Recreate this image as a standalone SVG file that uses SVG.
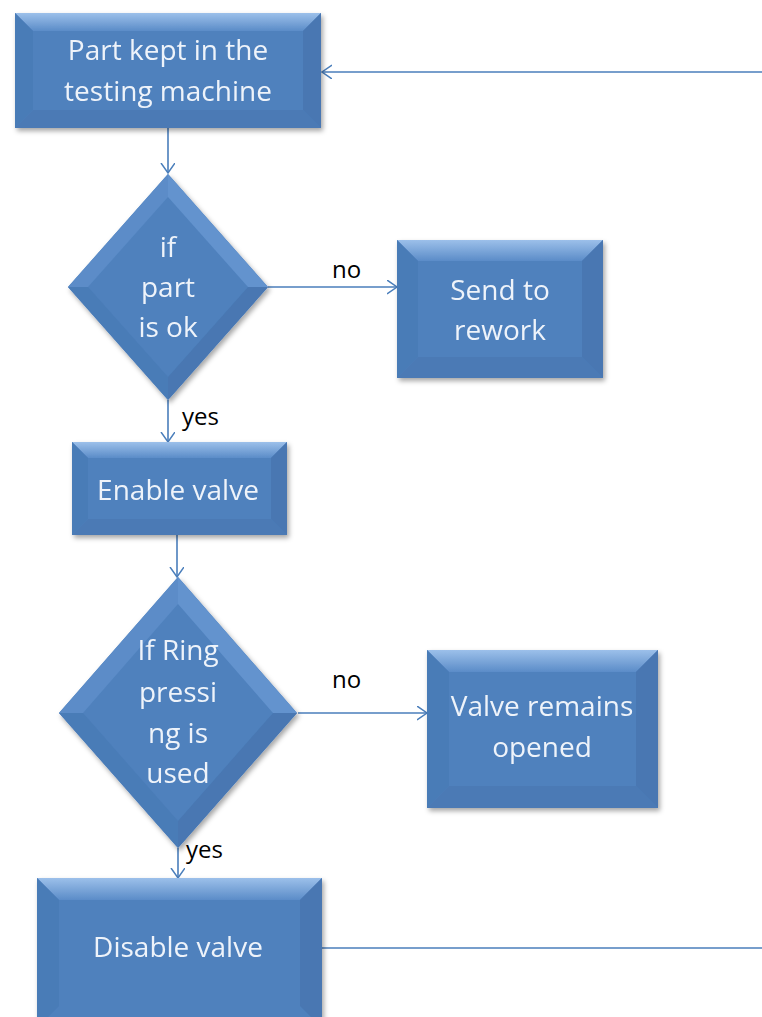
<svg xmlns="http://www.w3.org/2000/svg" width="762" height="1017" viewBox="0 0 762 1017">
<defs>
<style>
.base{fill:#4F81BD}
.top{fill:url(#gTop)}
.left{fill:#4A7BB7}
.right{fill:#4877B2}
.bot{fill:#4B7AB5}
.t{font-family:"Open Sans","Liberation Sans",Arial,sans-serif;font-size:28px;fill:#EEF3FA;text-anchor:middle}
.lbl{font-family:"Open Sans","Liberation Sans",Arial,sans-serif;font-size:24px;fill:#000}
.con{stroke:#4A7EBB;stroke-width:1.6;fill:none}
.arr{marker-end:url(#ah)}
</style>
<linearGradient id="gTop" x1="0" y1="0" x2="0" y2="1">
<stop offset="0" stop-color="#9CC0EA"/>
<stop offset="1" stop-color="#5B8CC8"/>
</linearGradient>
<filter id="sh" x="-10%" y="-10%" width="130%" height="130%">
<feDropShadow dx="2" dy="3" stdDeviation="2.5" flood-color="#000" flood-opacity="0.35"/>
</filter>
<marker id="ah" markerUnits="userSpaceOnUse" markerWidth="12" markerHeight="16" refX="10" refY="7" orient="auto">
<path d="M0,0 L10,7 L0,14" fill="none" stroke="#4A7EBB" stroke-width="1.5"/>
</marker>
</defs>
<rect width="762" height="1017" fill="#fff"/>

<g id="connectors">
<line class="con arr" x1="168" y1="128" x2="168" y2="173"/>
<line class="con arr" x1="268" y1="287" x2="397" y2="287"/>
<line class="con arr" x1="168" y1="400" x2="168" y2="442"/>
<line class="con arr" x1="177" y1="535" x2="177" y2="577"/>
<line class="con arr" x1="298" y1="713" x2="427" y2="713"/>
<line class="con arr" x1="178" y1="848" x2="178" y2="878"/>
<line class="con" x1="322" y1="948" x2="762" y2="948"/>
<line class="con arr" x1="762" y1="72" x2="322" y2="72"/>
</g>

<g id="n1" filter="url(#sh)">
<rect class="base" x="15" y="13" width="306" height="115"/>
<polygon class="top" points="15,13 321,13 303,31 33,31"/>
<polygon class="left" points="15,13 33,31 33,110 15,128"/>
<polygon class="right" points="321,13 303,31 303,110 321,128"/>
<polygon class="bot" points="15,128 33,110 303,110 321,128"/>
<rect class="base" x="33" y="31" width="270" height="79"/>
<text class="t" x="168" y="60">Part kept in the</text>
<text class="t" x="168" y="101">testing machine</text>
</g>

<g id="d1" filter="url(#sh)">
<polygon class="base" points="168,174 268,287 168,400 68,287"/>
<polygon fill="#6393CE" points="168,174 268,287 248,287 168,197"/>
<polygon fill="#5B8CC8" points="168,174 168,197 88,287 68,287"/>
<polygon class="right" points="268,287 168,400 168,377 248,287"/>
<polygon class="left" points="68,287 88,287 168,377 168,400"/>
<text class="t" x="168" y="257">if</text>
<text class="t" x="168" y="297">part</text>
<text class="t" x="168" y="337">is ok</text>
</g>

<g id="n3" filter="url(#sh)">
<rect class="base" x="397" y="240" width="206" height="138"/>
<polygon class="top" points="397,240 603,240 582,261 418,261"/>
<polygon class="left" points="397,240 418,261 418,357 397,378"/>
<polygon class="right" points="603,240 582,261 582,357 603,378"/>
<polygon class="bot" points="397,378 418,357 582,357 603,378"/>
<rect class="base" x="418" y="261" width="164" height="96"/>
<text class="t" x="500" y="300">Send to</text>
<text class="t" x="500" y="340">rework</text>
</g>

<g id="n4" filter="url(#sh)">
<rect class="base" x="72" y="442" width="215" height="93"/>
<polygon class="top" points="72,442 287,442 271,458 88,458"/>
<polygon class="left" points="72,442 88,458 88,519 72,535"/>
<polygon class="right" points="287,442 271,458 271,519 287,535"/>
<polygon class="bot" points="72,535 88,519 271,519 287,535"/>
<rect class="base" x="88" y="458" width="183" height="61"/>
<text class="t" x="178" y="500">Enable valve</text>
</g>

<g id="d2" filter="url(#sh)">
<polygon class="base" points="178,577 297,713 178,848 59,713"/>
<polygon fill="#6393CE" points="178,577 297,713 273,713 178,604"/>
<polygon fill="#5B8CC8" points="178,577 178,604 83,713 59,713"/>
<polygon class="right" points="297,713 178,848 178,821 273,713"/>
<polygon class="left" points="59,713 83,713 178,821 178,848"/>
<text class="t" x="178" y="660">If Ring</text>
<text class="t" x="178" y="702">pressi</text>
<text class="t" x="178" y="743">ng is</text>
<text class="t" x="178" y="783">used</text>
</g>

<g id="n6" filter="url(#sh)">
<rect class="base" x="427" y="650" width="231" height="158"/>
<polygon class="top" points="427,650 658,650 636,672 449,672"/>
<polygon class="left" points="427,650 449,672 449,786 427,808"/>
<polygon class="right" points="658,650 636,672 636,786 658,808"/>
<polygon class="bot" points="427,808 449,786 636,786 658,808"/>
<rect class="base" x="449" y="672" width="187" height="114"/>
<text class="t" x="542" y="716">Valve remains</text>
<text class="t" x="542" y="757">opened</text>
</g>

<g id="n7" filter="url(#sh)">
<rect class="base" x="37" y="878" width="285" height="150"/>
<polygon class="top" points="37,878 322,878 300,900 59,900"/>
<polygon class="left" points="37,878 59,900 59,1006 37,1028"/>
<polygon class="right" points="322,878 300,900 300,1006 322,1028"/>
<rect class="base" x="59" y="900" width="241" height="106"/>
<text class="t" x="178" y="957">Disable valve</text>
</g>

<g id="labels">
<text class="lbl" x="332" y="278">no</text>
<text class="lbl" x="182" y="425">yes</text>
<text class="lbl" x="332" y="688">no</text>
<text class="lbl" x="186" y="858">yes</text>
</g>
</svg>
